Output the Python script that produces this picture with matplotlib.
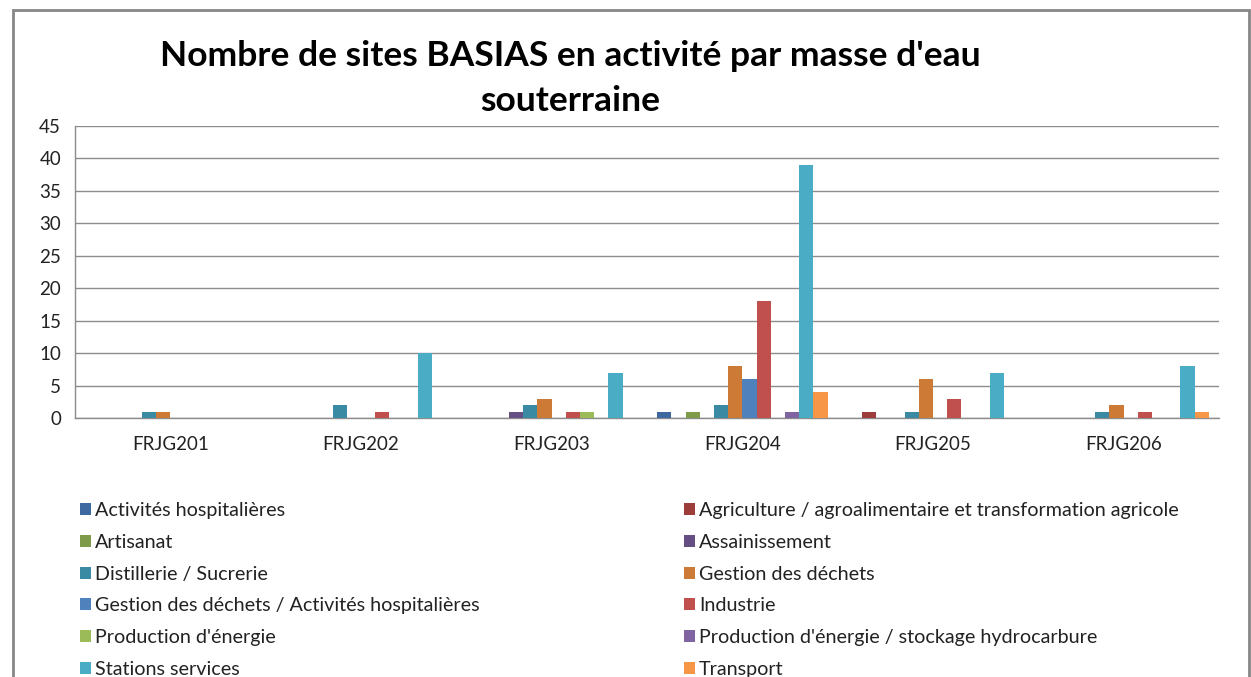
import numpy as np
import matplotlib
matplotlib.use("Agg")
import matplotlib.pyplot as plt
from matplotlib.patches import Rectangle

plt.rcParams['font.family'] = ['Lato', 'DejaVu Sans']

masses = ["FRJG201", "FRJG202", "FRJG203", "FRJG204", "FRJG205", "FRJG206"]

activites = [
    "Activités hospitalières",
    "Agriculture / agroalimentaire et transformation agricole",
    "Artisanat",
    "Assainissement",
    "Distillerie / Sucrerie",
    "Gestion des déchets",
    "Gestion des déchets / Activités hospitalières",
    "Industrie",
    "Production d'énergie",
    "Production d'énergie / stockage hydrocarbure",
    "Stations services",
    "Transport",
]

# one list per activity, one value per masse d'eau
hospitalieres = [0, 0, 0, 1, 0, 0]
agriculture = [0, 0, 0, 0, 1, 0]
artisanat = [0, 0, 0, 1, 0, 0]
assainissement = [0, 0, 1, 0, 0, 0]
distillerie = [1, 2, 2, 2, 1, 1]
dechets = [1, 0, 3, 8, 6, 2]
dechets_hosp = [0, 0, 0, 6, 0, 0]
industrie = [0, 1, 1, 18, 3, 1]
energie = [0, 0, 1, 0, 0, 0]
energie_stockage = [0, 0, 0, 1, 0, 0]
stations = [0, 10, 7, 39, 7, 8]
transport = [0, 0, 0, 4, 0, 1]

values = [hospitalieres, agriculture, artisanat, assainissement, distillerie, dechets,
          dechets_hosp, industrie, energie, energie_stockage, stations, transport]

colors = ["#3E69A0", "#9C3D3B", "#7F9A48", "#654E83", "#3A8AA3", "#CC7A36",
          "#4F81BD", "#C0504D", "#9BBB59", "#8064A2", "#4BACC6", "#F79646"]

W, H = 1251, 677
fig = plt.figure(figsize=(W / 100, H / 100), dpi=100)
ax = fig.add_axes([75 / W, 1 - 418 / H, (1219 - 75) / W, (418 - 126) / H])

n = len(values)
bw = 0.0745
x = np.arange(len(masses))
for i, (vals, c) in enumerate(zip(values, colors)):
    ax.bar(x + (i - (n - 1) / 2) * bw, vals, width=bw, color=c, label=activites[i], zorder=3)

ax.set_xlim(-0.5, len(masses) - 0.5)
ax.set_ylim(0, 45)
ax.set_yticks(range(0, 46, 5))
ax.set_xticks(x)
ax.set_xticklabels(masses)
ax.tick_params(axis='both', length=0, labelsize=13.5, colors='#222222')
ax.tick_params(axis='x', pad=13)
ax.tick_params(axis='y', pad=10)
ax.yaxis.grid(True, color='#8c8c8c', linewidth=1, zorder=0)
for s in ['top', 'right']:
    ax.spines[s].set_visible(False)
for s in ['left', 'bottom']:
    ax.spines[s].set_color('#8c8c8c')
    ax.spines[s].set_linewidth(1)

fig.text(570 / W, 1 - 56 / H, "Nombre de sites BASIAS en activité par masse d'eau",
         ha='center', va='center', fontsize=25.5, fontweight='bold')
fig.text(570 / W, 1 - 101 / H, "souterraine",
         ha='center', va='center', fontsize=25.5, fontweight='bold')

handles, labels = ax.get_legend_handles_labels()
for col, start, xpos in [(0, 0, 80), (1, 1, 684)]:
    idx = list(range(start, n, 2))
    leg = fig.legend([handles[k] for k in idx], [labels[k] for k in idx],
                     loc='upper left', bbox_to_anchor=(xpos / W, 1 - 502 / H),
                     frameon=False, fontsize=14.2, borderpad=0, borderaxespad=0,
                     handlelength=0.55, handleheight=0.55, handletextpad=0.2,
                     labelspacing=0.75)
    for t in leg.get_texts():
        t.set_color('#222222')

fig.add_artist(Rectangle((13 / W, -0.2), (1249 - 13) / W, 1.2 - 10 / H,
                         transform=fig.transFigure, fill=False,
                         edgecolor='#868686', linewidth=2))

fig.savefig("out.png", dpi=100)
